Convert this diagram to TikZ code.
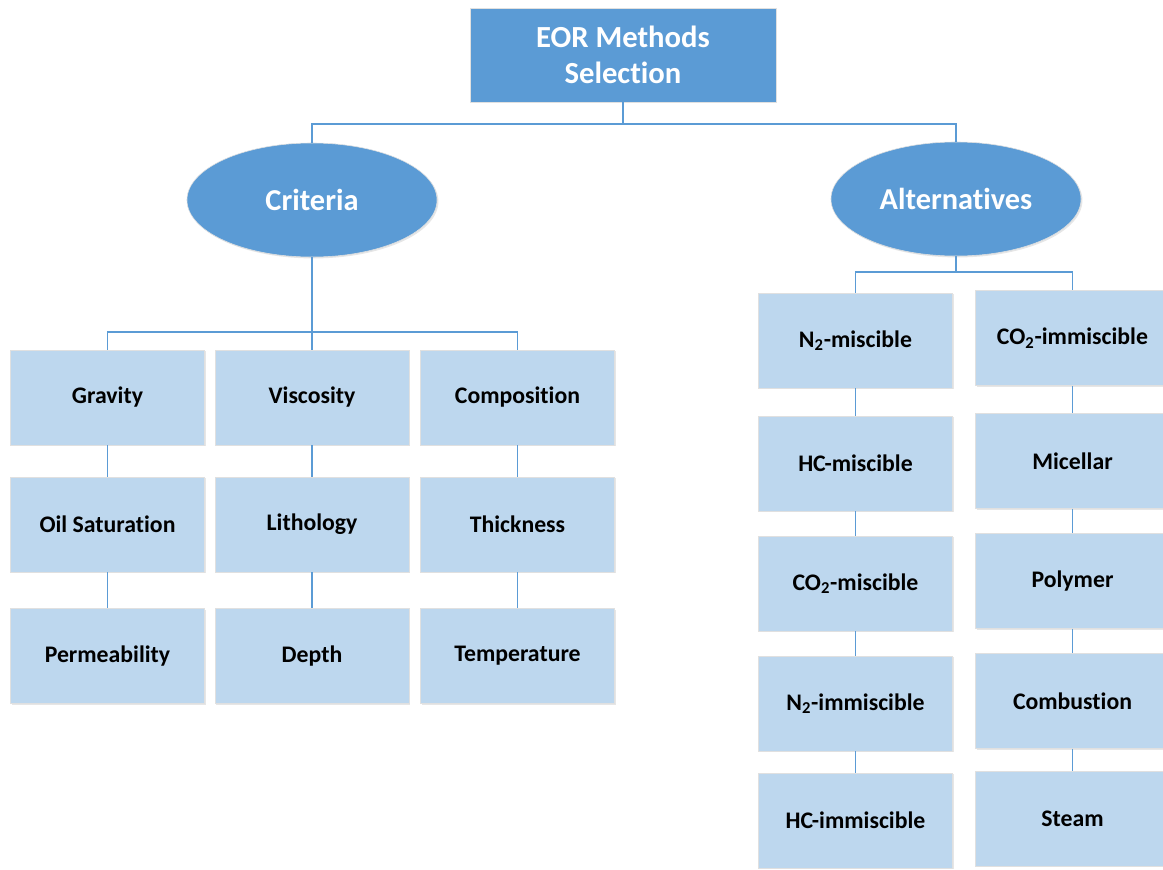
\documentclass[tikz,border=0pt]{standalone}
\usepackage{fontspec}
\setmainfont{Carlito}[Ligatures=NoCommon]
\usetikzlibrary{shapes.geometric}
\usetikzlibrary{shadows}

\definecolor{darkblue}{HTML}{5B9BD5}
\definecolor{lightblue}{HTML}{BDD7EE}

\tikzset{
	mainbox/.style={rectangle, fill=darkblue, draw=black!12, text=white, font=\fontsize{21.8}{25.5}\selectfont\bfseries, align=center, minimum width=7.65cm, minimum height=2.35cm, inner sep=0pt, drop shadow={opacity=0.2, shadow xshift=1pt, shadow yshift=-1pt}},
	groupnode/.style={ellipse, fill=darkblue, draw=black!12, text=white, font=\fontsize{21.6}{25}\selectfont\bfseries, minimum width=6.25cm, minimum height=2.85cm, inner sep=0pt, drop shadow={opacity=0.2, shadow xshift=1pt, shadow yshift=-1pt}},
	itembox/.style={rectangle, fill=lightblue, draw=black!12, text=black, font=\fontsize{16.9}{20}\selectfont\bfseries, minimum width=4.85cm, minimum height=2.375cm, inner sep=0pt, drop shadow={opacity=0.2, shadow xshift=1pt, shadow yshift=-1pt}},
	link/.style={draw=darkblue, line width=1.2pt}
}

\begin{document}
\begin{tikzpicture}[x=0.025cm, y=-0.025cm]

		\useasboundingbox (0,0) rectangle (1163,869);

		% Felso doboz
		\node[mainbox] (eor) at (623,55) {EOR Methods\\Selection};

		% Ellipszisek
		\node[groupnode] (crit) at (312,200) {Criteria};
		\node[groupnode] (alt) at (956,199) {Alternatives};

		% Kriteriumok
		\node[itembox] (grav) at (107.5,397.5) {Gravity};
		\node[itembox] (visc) at (312,397.5) {Viscosity};
		\node[itembox] (comp) at (517.5,397.5) {Composition};
		\node[itembox] (oils) at (107.5,524.5) {Oil Saturation};
		\node[itembox] (lith) at (312,524.5) {Lithology};
		\node[itembox] (thick) at (517.5,524.5) {Thickness};
		\node[itembox] (perm) at (107.5,656) {Permeability};
		\node[itembox] (depth) at (312,656) {Depth};
		\node[itembox] (temp) at (517.5,656) {Temperature};

		% Alternativak, bal oszlop
		\node[itembox] (nmis) at (855.5,340.5) {N\textsubscript{2}-miscible};
		\node[itembox] (hcmis) at (855.5,463.5) {HC-miscible};
		\node[itembox] (comis) at (855.5,583.5) {CO\textsubscript{2}-miscible};
		\node[itembox] (nimm) at (855.5,703.5) {N\textsubscript{2}-immiscible};
		\node[itembox] (hcimm) at (855.5,820.5) {HC-immiscible};

		% Alternativak, jobb oszlop
		\node[itembox] (coimm) at (1072.5,338) {CO\textsubscript{2}-immiscible};
		\node[itembox] (mic) at (1072.5,461) {Micellar};
		\node[itembox] (poly) at (1072.5,581) {Polymer};
		\node[itembox] (comb) at (1072.5,701) {Combustion};
		\node[itembox] (steam) at (1072.5,818.5) {Steam};

		% Gyujtovonalak
		\coordinate (topbus) at (623,124);
		\coordinate (critbus) at (312,332);
		\coordinate (altbus) at (956,272);

		\draw[link] (eor.south) -- (topbus);
		\draw[link] (crit.north) -- (crit.north |- topbus) -- (alt.north |- topbus) -- (alt.north);

		\draw[link] (crit.south) -- (critbus);
		\draw[link] (grav.north) -- (grav.north |- critbus) -- (comp.north |- critbus) -- (comp.north);
		\draw[link] (critbus) -- (visc.north);

		\draw[link] (alt.south) -- (altbus);
		\draw[link] (nmis.north) -- (nmis.north |- altbus) -- (coimm.north |- altbus) -- (coimm.north);

		% Oszlopok
		\draw[link] (grav.south) -- (oils.north);
		\draw[link] (oils.south) -- (perm.north);
		\draw[link] (visc.south) -- (lith.north);
		\draw[link] (lith.south) -- (depth.north);
		\draw[link] (comp.south) -- (thick.north);
		\draw[link] (thick.south) -- (temp.north);

		\draw[link] (nmis.south) -- (hcmis.north);
		\draw[link] (hcmis.south) -- (comis.north);
		\draw[link] (comis.south) -- (nimm.north);
		\draw[link] (nimm.south) -- (hcimm.north);

		\draw[link] (coimm.south) -- (mic.north);
		\draw[link] (mic.south) -- (poly.north);
		\draw[link] (poly.south) -- (comb.north);
		\draw[link] (comb.south) -- (steam.north);

	\end{tikzpicture}
\end{document}
